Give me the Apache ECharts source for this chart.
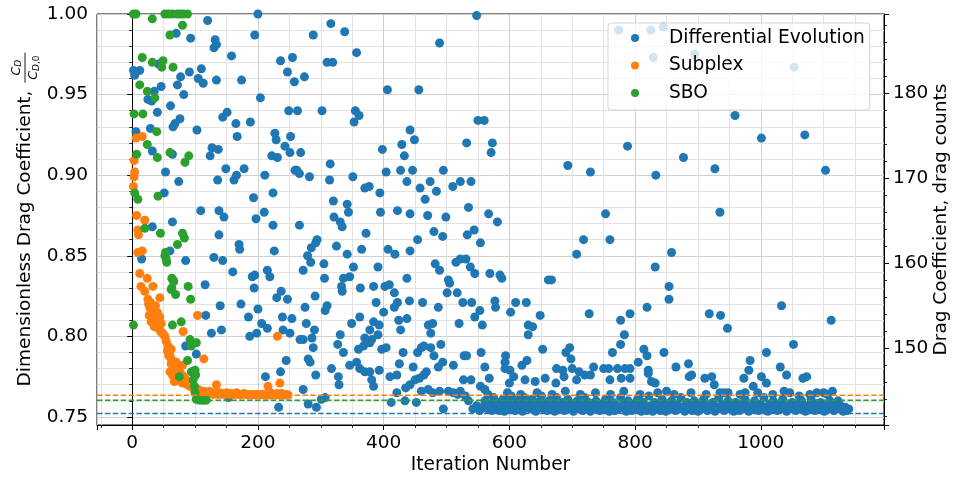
<!DOCTYPE html>
<html><head><meta charset="utf-8">
<script src="https://cdn.jsdelivr.net/npm/echarts@6/dist/echarts.min.js"></script>
<style>html,body{margin:0;padding:0;background:#fff}#c{width:953px;height:479px}</style>
</head><body><div id="c"></div>
<script>
const seriesNames = ['Differential Evolution', 'Subplex', 'SBO'];
const seriesColors = ['#1f77b4', '#ff7f0e', '#2ca02c'];

// Differential Evolution: scattered exploration points [iteration, Cd/Cd0]
const deScatter = [
[200,1.000],[120,0.996],[195,0.987],[70,0.988],[93,0.985],[132,0.984],[130,0.979],[134,0.981],[158,0.974],[236,0.971],[255,0.973],[2,0.965],[12,0.965],[4,0.962],[42,0.969],[110,0.966],[91,0.964],[77,0.961],[105,0.960],[113,0.957],[134,0.959],[174,0.959],[247,0.964],[258,0.958],[72,0.956],[35,0.952],[46,0.955],[82,0.950],[204,0.948],[25,0.947],[31,0.946],[61,0.943],[40,0.939],[151,0.939],[249,0.940],[144,0.936],[76,0.935],[68,0.932],[65,0.930],[165,0.932],[188,0.933],[29,0.929],[6,0.927],[103,0.928],[167,0.924],[227,0.926],[229,0.922],[252,0.924],[127,0.917],[137,0.916],[32,0.915],[64,0.913],[124,0.912],[222,0.912],[231,0.911],[243,0.918],[251,0.914],[149,0.904],[178,0.904],[53,0.902],[166,0.900],[162,0.897],[136,0.897],[211,0.900],[259,0.903],[74,0.896],[224,0.889],[51,0.889],[193,0.886],
[109,0.878],[138,0.878],[146,0.874],[197,0.873],[210,0.877],[224,0.869],[64,0.871],[32,0.868],[138,0.863],[170,0.857],[171,0.854],[226,0.853],[60,0.853],[15,0.848],[85,0.847],[130,0.849],[144,0.847],[160,0.840],[191,0.837],[195,0.838],[215,0.841],[219,0.837],[194,0.830],[116,0.832],[237,0.828],[230,0.824],[247,0.823],[140,0.819],[173,0.820],[200,0.817],[117,0.813],[185,0.812],[239,0.812],[254,0.811],[206,0.808],[215,0.805],[240,0.804],[126,0.802],[142,0.804],[187,0.800],[198,0.802],[251,0.802],[85,0.794],[102,0.789],[245,0.785],[236,0.778],[212,0.775],[153,0.762],[233,0.756],
[316,0.994],[288,0.987],[338,0.989],[357,0.976],[310,0.970],[319,0.970],[274,0.961],[406,0.953],[263,0.940],[302,0.940],[355,0.940],[361,0.937],[353,0.933],[442,0.928],[268,0.914],[398,0.916],[429,0.919],[433,0.912],[315,0.907],[262,0.903],[266,0.901],[404,0.902],[427,0.903],[437,0.896],[282,0.899],[314,0.897],[351,0.899],[370,0.892],[377,0.893],[394,0.889],[320,0.884],[342,0.882],[395,0.877],[422,0.878],[344,0.877],[442,0.876],[321,0.874],[331,0.871],[334,0.868],[266,0.869],[372,0.864],[294,0.860],[292,0.858],[285,0.855],[279,0.850],[284,0.846],[325,0.856],[342,0.851],[365,0.854],[407,0.854],[418,0.851],[442,0.853],[272,0.841],[305,0.845],[306,0.836],[352,0.843],[391,0.843],[336,0.836],[346,0.837],[333,0.831],[334,0.828],[363,0.830],[384,0.831],[402,0.831],[409,0.832],[417,0.827],[437,0.836],[291,0.825],[388,0.821],[422,0.821],[417,0.818],[441,0.822],[275,0.818],[310,0.819],[307,0.816],[400,0.815],[362,0.812],[384,0.809],[424,0.810],[437,0.811],[277,0.808],[349,0.808],[393,0.807],[290,0.804],[427,0.804],[331,0.801],[378,0.804],[391,0.801],[267,0.798],[272,0.798],[286,0.799],[370,0.799],[381,0.798],[327,0.795],[288,0.793],[336,0.790],[360,0.792],[368,0.794],[378,0.796],[397,0.792],[404,0.793],[431,0.790],[280,0.786],[283,0.784],[317,0.780],[346,0.782],[357,0.784],[362,0.780],[370,0.778],[378,0.778],[393,0.779],[425,0.783],[292,0.776],[328,0.775],[329,0.770],[410,0.775],[421,0.776],[381,0.773],[384,0.769],[272,0.767],[280,0.758],[293,0.756],[301,0.761],[307,0.762],[421,0.765],[412,0.759],[435,0.768],[434,0.760],
[548,0.999],[489,0.982],[456,0.953],[550,0.934],[560,0.934],[449,0.922],[532,0.920],[573,0.920],[571,0.914],[446,0.903],[495,0.903],[458,0.892],[474,0.896],[484,0.890],[510,0.893],[522,0.896],[539,0.896],[466,0.885],[535,0.880],[470,0.875],[499,0.874],[567,0.876],[581,0.871],[480,0.865],[494,0.862],[533,0.863],[544,0.866],[554,0.858],[454,0.860],[482,0.845],[489,0.841],[515,0.846],[522,0.848],[531,0.848],[538,0.843],[545,0.839],[569,0.839],[585,0.838],[588,0.836],[503,0.835],[505,0.833],[517,0.827],[501,0.827],[462,0.821],[487,0.818],[526,0.821],[540,0.821],[577,0.822],[578,0.818],[553,0.816],[545,0.812],[602,0.815],[610,0.821],[627,0.821],[520,0.808],[557,0.807],[471,0.807],[478,0.808],[475,0.802],[630,0.807],[630,0.801],[491,0.795],[460,0.793],[464,0.794],[475,0.793],[454,0.790],[480,0.788],[528,0.788],[532,0.788],[555,0.790],[594,0.788],[447,0.781],[494,0.784],[487,0.781],[511,0.782],[561,0.781],[593,0.784],[593,0.780],[628,0.785],[620,0.782],[468,0.778],[464,0.776],[457,0.774],[450,0.773],[442,0.770],[527,0.773],[539,0.773],[568,0.774],[601,0.779],[607,0.775],[625,0.773],[600,0.771],[554,0.769],[561,0.767],
[788,0.918],[693,0.906],[729,0.902],[753,0.876],[718,0.860],[760,0.860],[707,0.851],[662,0.835],[667,0.835],[819,0.818],[649,0.813],[727,0.814],[792,0.814],[777,0.810],[637,0.806],[783,0.801],[777,0.795],[653,0.792],[764,0.790],[814,0.792],[819,0.788],[696,0.793],[690,0.790],[698,0.786],[805,0.784],[675,0.780],[685,0.779],[700,0.780],[711,0.778],[687,0.775],[784,0.780],[792,0.780],[792,0.774],[821,0.779],[734,0.781],[750,0.780],[758,0.780],[772,0.780],[760,0.773],[657,0.774],[674,0.771],[641,0.772],[720,0.776],[729,0.776],[707,0.773],[778,0.774],[821,0.777],
[959,0.937],[1001,0.923],[877,0.911],[833,0.900],[927,0.904],[935,0.877],[858,0.852],[832,0.843],[854,0.831],[854,0.823],[918,0.814],[936,0.813],[947,0.805],[846,0.790],[1009,0.790],[865,0.781],[885,0.783],[983,0.785],[981,0.779],[886,0.775],[890,0.776],[911,0.774],[922,0.775],[926,0.770],[973,0.774],[988,0.769],[1001,0.775],[1009,0.771],[826,0.772],[832,0.771],[850,0.766],[935,0.765],[948,0.765],[975,0.765],
[1053,0.967],[1070,0.925],[1103,0.903],[1033,0.819],[1112,0.810],[1052,0.795],[1031,0.781],[1041,0.776],[1067,0.774],[1073,0.775],[1037,0.766],[1061,0.763],[1089,0.765],[1100,0.765],[1114,0.766],[1123,0.760],
[774,0.990],[825,0.990],[845,0.992],[829,0.973],[895,0.975],
[452,0.759],[460,0.766],[471,0.767],[478,0.765],[489,0.766],[495,0.755],[503,0.766],[511,0.765],[518,0.764],[522,0.766],[530,0.763],[535,0.760]
];

// Differential Evolution: converged band near the optimum
const deBand = [
[542,0.755],[548,0.757],[553,0.754],[558,0.756],[561,0.760],[565,0.755],[568,0.758],[572,0.754],[575,0.762],[578,0.756],[581,0.759],[584,0.754],[587,0.757],[590,0.761],[592,0.7535],[595,0.756],[598,0.759],[601,0.755],[603,0.763],[606,0.757],[609,0.754],[612,0.760],[615,0.756],[618,0.758],[621,0.7535],[624,0.762],[627,0.756],[630,0.759],[633,0.755],
[636,0.761],[639,0.757],[642,0.7535],[645,0.759],[648,0.756],[651,0.763],[654,0.755],[657,0.758],[660,0.754],[663,0.760],[666,0.756],[669,0.758],[672,0.7535],[675,0.762],[678,0.757],[681,0.755],[684,0.759],[687,0.754],[690,0.757],[693,0.761],[696,0.755],[699,0.758],[702,0.7535],[705,0.756],[708,0.760],[711,0.755],[714,0.758],[717,0.754],[720,0.762],[723,0.756],[726,0.759],[729,0.7535],[732,0.757],[735,0.755],[738,0.760],[741,0.756],[744,0.754],[747,0.758],[750,0.755],[753,0.761],[756,0.757],[759,0.7535],[762,0.756],[765,0.759],[768,0.754],[771,0.757],[774,0.755],[777,0.762],[780,0.756],[783,0.758],[786,0.7535],[789,0.760],[792,0.756],[795,0.754],[798,0.758],[801,0.755],[804,0.761],[807,0.757],[810,0.7535],[813,0.759],[816,0.756],[819,0.754],[822,0.763],
[825,0.757],[828,0.7535],[831,0.759],[834,0.755],[837,0.757],[840,0.754],[843,0.761],[846,0.756],[849,0.7535],[852,0.758],[855,0.755],[858,0.760],[861,0.756],[864,0.754],[867,0.758],[870,0.755],[873,0.762],[876,0.756],[879,0.7535],[882,0.759],[885,0.755],[888,0.757],[891,0.754],[894,0.760],[897,0.756],[900,0.7535],[903,0.758],[906,0.755],[909,0.761],[912,0.756],[915,0.754],[918,0.757],[921,0.755],[924,0.759],[927,0.7535],[930,0.756],[933,0.762],[936,0.755],[939,0.758],[942,0.754],[945,0.756],[948,0.760],[951,0.755],[954,0.757],[957,0.7535],[960,0.759],[963,0.756],[966,0.754],[969,0.758],[972,0.755],[975,0.761],[978,0.756],[981,0.7535],[984,0.757],[987,0.755],[990,0.760],[993,0.756],[996,0.754],[999,0.758],[1002,0.755],[1005,0.762],[1008,0.756],
[1011,0.7535],[1014,0.758],[1017,0.755],[1020,0.760],[1023,0.756],[1026,0.754],[1029,0.758],[1032,0.755],[1035,0.761],[1038,0.756],[1041,0.7535],[1044,0.757],[1047,0.755],[1050,0.759],[1053,0.756],[1056,0.754],[1059,0.758],[1062,0.755],[1065,0.760],[1068,0.756],[1071,0.7535],[1074,0.757],[1077,0.755],[1080,0.761],[1083,0.756],[1086,0.754],[1089,0.758],[1092,0.755],[1095,0.759],[1098,0.756],[1101,0.7535],[1104,0.757],[1107,0.755],[1110,0.760],[1113,0.756],[1116,0.754],[1119,0.757],[1122,0.755],[1125,0.758],[1128,0.755],[1131,0.7535],[1134,0.756],[1137,0.754],[1140,0.755],
[566,0.764],[597,0.765],[618,0.764],[644,0.765],[668,0.764],[689,0.766],[713,0.764],[737,0.765],[761,0.764],[782,0.766],[808,0.764],[836,0.765],[862,0.764],[889,0.765],[913,0.764],[941,0.765],[967,0.764],[995,0.765],[1019,0.764],[1046,0.765],[1078,0.764],[1106,0.764]
];

// Subplex points [iteration, Cd/Cd0]
const subplexPoints = [
[2,0.893],[3,0.899],[4,0.902],[3,0.909],[6,0.923],[16,0.924],[7,0.875],[20,0.872],[9,0.866],[10,0.863],[9,0.852],[16,0.853],[12,0.839],[24,0.836],[14,0.831],[33,0.831],[20,0.828],[25,0.823],[44,0.824],
[26,0.820],[28,0.818],[30,0.816],[32,0.815],[27,0.813],[34,0.812],[36,0.810],[30,0.809],[38,0.808],[40,0.807],[35,0.806],[42,0.805],[44,0.812],[46,0.808],[33,0.817],[29,0.821],[40,0.815],[37,0.819],[45,0.803],[48,0.802],
[50,0.801],[52,0.800],[54,0.797],[57,0.794],[56,0.791],[59,0.789],[61,0.787],[63,0.785],[62,0.783],[65,0.781],[68,0.781],[70,0.778],[72,0.776],[73,0.775],[76,0.774],[78,0.772],[80,0.771],[84,0.771],[88,0.770],[92,0.769],[96,0.768],[100,0.767],[67,0.772],[80,0.782],[81,0.803],[104,0.813],[114,0.786],[60,0.778],[64,0.776],
[58,0.788],[62,0.792],[66,0.779],[70,0.784],[74,0.779],[77,0.777],[82,0.775],[86,0.773],[90,0.771],
[102,0.766],[105,0.767],[108,0.766],[111,0.765],[114,0.766],[117,0.765],[120,0.7645],[123,0.766],[126,0.765],[129,0.764],[132,0.765],[134,0.770],[136,0.764],[139,0.765],[142,0.764],[145,0.7645],[148,0.764],[151,0.765],[154,0.764],[157,0.7645],[160,0.764],[163,0.764],[166,0.765],[169,0.764],[172,0.7638],[175,0.764],[178,0.7645],[181,0.764],[184,0.7638],[187,0.764],[190,0.7636],[193,0.764],[196,0.7638],[199,0.764],[202,0.7636],[205,0.7638],[208,0.764],[211,0.7636],[214,0.7638],[216,0.769],[218,0.7636],[220,0.765],[222,0.7637],[225,0.764],[228,0.7636],[231,0.7645],[231,0.800],[233,0.7638],[235,0.771],[236,0.7636],[238,0.7645],[240,0.7637],[242,0.764],[244,0.7636],[246,0.7638],[248,0.7636]
];

// SBO points [iteration, Cd/Cd0]
const sboPoints = [
[2,1.000],[6,1.000],[52,1.000],[58,1.000],[64,1.000],[71,1.000],[76,1.000],[81,1.000],[88,1.000],[32,0.997],[80,0.993],[60,0.987],[16,0.973],[32,0.970],[49,0.971],[47,0.967],[65,0.967],[12,0.956],[24,0.952],[36,0.948],[3,0.938],[17,0.938],[39,0.927],[24,0.919],[7,0.913],[40,0.911],[60,0.914],[90,0.912],[84,0.908],[4,0.889],[41,0.887],[9,0.885],[20,0.867],[45,0.864],[80,0.864],[83,0.861],[72,0.857],[52,0.850],[54,0.848],[55,0.846],[53,0.852],[63,0.836],[66,0.834],[62,0.829],[65,0.835],[63,0.830],[69,0.826],[89,0.831],[93,0.823],[2,0.807],[64,0.807],[78,0.809],[92,0.798],[102,0.796],[94,0.794],[88,0.785],[75,0.775],[94,0.778],[100,0.779],[101,0.776],[97,0.773],[99,0.769],[100,0.765],[102,0.761],[106,0.7605],[110,0.7604],[114,0.7604],[118,0.7604]
];

// best value reached by each optimiser (dashed lines): DE, Subplex, SBO
const bestValues = [0.7522, 0.7635, 0.7604];
// reference drag coefficient (drag counts) for the right axis
const CD0_COUNTS = 189.3;
const xRange = [-56, 1196];
const yRange = [0.745, 1.0];

const FONT = 'DejaVu Sans';
const deData = deScatter.concat(deBand);
const dataSets = [deData, subplexPoints, sboPoints];

const chart = echarts.init(document.getElementById('c'), null, {renderer: 'canvas'});

const tickStyle = {show: true, inside: false, length: 5, lineStyle: {color: '#000', width: 1}};
const minorStyle = (n) => ({show: true, splitNumber: n, length: 3, lineStyle: {color: '#000', width: 0.8}});

// left label: main text + fraction C_D / C_D,0
const mainLabel = 'Dimensionless Drag Coefficient, ';
const labelFs = 18.5;
const cv = document.createElement('canvas').getContext('2d');
cv.font = labelFs + 'px "' + FONT + '"';
const mainW = cv.measureText(mainLabel).width;
const fracW = 30;
const totalW = mainW + fracW + 2;
const gridTop = 14, gridBottom = 479 - 54;
const centerY = (gridTop + gridBottom) / 2;
const startY = centerY + totalW / 2;
const fracRich = {
  c: {fontFamily: FONT, fontStyle: 'italic', fontSize: 12.5, lineHeight: 14, verticalAlign: 'middle', fill: '#000'},
  s: {fontFamily: FONT, fontStyle: 'italic', fontSize: 9, lineHeight: 14, verticalAlign: 'bottom', fill: '#000'},
  u: {fontFamily: FONT, fontSize: 9, lineHeight: 14, verticalAlign: 'bottom', fill: '#000'}
};
const fracC = mainW + 2 + fracW / 2;

const scatterSeries = seriesNames.map((name, i) => ({
  name: name, type: 'scatter', data: dataSets[i], xAxisIndex: 0, yAxisIndex: 0, z: 2,
  symbol: 'circle', symbolSize: 9, itemStyle: {color: seriesColors[i], opacity: 1},
  emphasis: {disabled: true}
}));
const bestLineSeries = seriesNames.map((name, i) => ({
  name: name + ' best', type: 'line', xAxisIndex: 0, yAxisIndex: 0, z: 6,
  data: [[xRange[0], bestValues[i]], [xRange[1], bestValues[i]]],
  showSymbol: false, symbol: 'none', silent: true,
  lineStyle: {color: seriesColors[i], type: [5.5, 2.4], width: 1.5},
  emphasis: {disabled: true}
}));

chart.setOption({
  animation: false,
  backgroundColor: '#fff',
  grid: {left: 97, right: 69, top: gridTop, bottom: 54, show: true, borderColor: '#000', borderWidth: 1,
    backgroundColor: 'transparent', containLabel: false, outerBoundsMode: 'none'},
  legend: {
    orient: 'vertical', left: 608, top: 23, z: 10,
    data: seriesNames, icon: 'circle', itemWidth: 8, itemHeight: 8, itemGap: 7.5,
    padding: [5, 5, 7, 23],
    backgroundColor: 'rgba(255,255,255,0.8)', borderColor: '#d5d5d5', borderWidth: 1, borderRadius: 3,
    textStyle: {fontFamily: FONT, fontSize: 18.6, color: '#000', lineHeight: 20, padding: [0, 0, 0, 25]}
  },
  xAxis: {
    type: 'value', min: xRange[0], max: xRange[1], splitNumber: 6,
    name: 'Iteration Number', nameLocation: 'middle', nameGap: 31, nameMoveOverlap: false,
    nameTextStyle: {fontFamily: FONT, fontSize: 18.6, color: '#000'},
    axisLine: {show: true, onZero: false, lineStyle: {color: '#000', width: 1}},
    axisTick: tickStyle, minorTick: minorStyle(4),
    axisLabel: {fontFamily: FONT, fontSize: 18.5, color: '#000', margin: 9, showMinLabel: false, showMaxLabel: false,
      formatter: v => String(v)},
    splitLine: {show: true, lineStyle: {color: '#cfcfcf', width: 1}},
    minorSplitLine: {show: true, lineStyle: {color: '#e2e2e2', width: 1}}
  },
  yAxis: [{
    type: 'value', min: yRange[0], max: yRange[1], splitNumber: 5, position: 'left',
    axisLine: {show: true, lineStyle: {color: '#000', width: 1}},
    axisTick: tickStyle, minorTick: minorStyle(5),
    axisLabel: {fontFamily: FONT, fontSize: 18.5, color: '#000', margin: 9, showMinLabel: false, showMaxLabel: true,
      formatter: v => v.toFixed(2)},
    splitLine: {show: true, lineStyle: {color: '#cfcfcf', width: 1}},
    minorSplitLine: {show: true, lineStyle: {color: '#e2e2e2', width: 1}}
  }, {
    type: 'value', min: yRange[0] * CD0_COUNTS, max: yRange[1] * CD0_COUNTS, splitNumber: 5, position: 'right',
    name: 'Drag Coefficient, drag counts', nameLocation: 'middle', nameRotate: 90, nameGap: 48, nameMoveOverlap: false,
    nameTextStyle: {fontFamily: FONT, fontSize: 18.5, color: '#000'},
    axisLine: {show: true, lineStyle: {color: '#000', width: 1}},
    axisTick: tickStyle, minorTick: minorStyle(5),
    axisLabel: {fontFamily: FONT, fontSize: 18.5, color: '#000', margin: 9, showMinLabel: false, showMaxLabel: false,
      formatter: v => String(v)},
    splitLine: {show: false}, minorSplitLine: {show: false}
  }],
  graphic: [{
    type: 'group', x: 25, y: startY, rotation: Math.PI / 2, silent: true,
    children: [
      {type: 'text', x: 0, y: 0, style: {text: mainLabel, font: labelFs + 'px "' + FONT + '"', fill: '#000',
        align: 'left', textAlign: 'left', verticalAlign: 'middle', textVerticalAlign: 'middle'}},
      {type: 'text', x: fracC, y: -8.5, style: {text: '{c|C}{s|D}', rich: fracRich, fill: '#000',
        align: 'center', textAlign: 'center', verticalAlign: 'middle', textVerticalAlign: 'middle'}},
      {type: 'line', shape: {x1: mainW + 2, y1: 0, x2: mainW + 2 + fracW, y2: 0}, style: {stroke: '#000', lineWidth: 0.9}},
      {type: 'text', x: fracC, y: 9, style: {text: '{c|C}{s|D}{u|,0}', rich: fracRich, fill: '#000',
        align: 'center', textAlign: 'center', verticalAlign: 'middle', textVerticalAlign: 'middle'}}
    ]
  }],
  series: scatterSeries.concat(bestLineSeries)
});
</script>
</body></html>
